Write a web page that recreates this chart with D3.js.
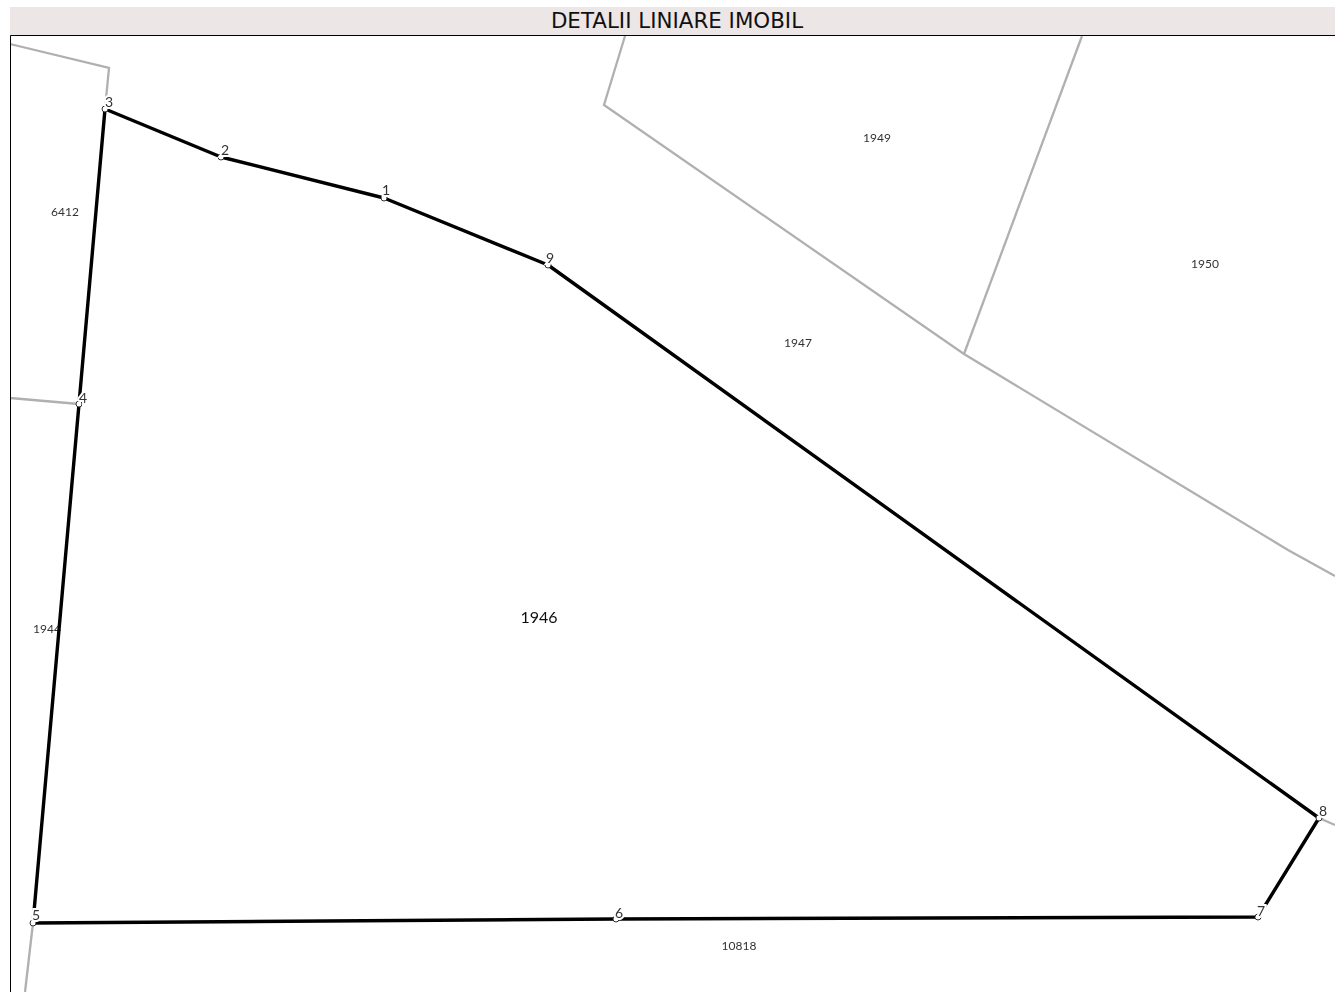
<!DOCTYPE html>
<html>
<head>
<meta charset="utf-8">
<script src="https://cdn.jsdelivr.net/npm/d3@7"></script>
<style>
  html, body { margin: 0; padding: 0; background: #fff; overflow: hidden; }
  text.parcel { font-family: Lato, sans-serif; fill: #333; }
  text.vertex { font-family: Lato, sans-serif; fill: #333; font-size: 14px; paint-order: stroke; stroke: #fff; stroke-width: 4px; }
</style>
</head>
<body>
<div class="chart"></div>
<script>
// all map positions are in plot units, 0,0 is the upper left corner of the frame
const title = "DETALII LINIARE IMOBIL";

const vertexNames = ["1", "2", "3", "4", "5", "6", "7", "8", "9"];
const vertexX = [374, 211, 95, 69, 23, 606, 1248, 1309, 538];
const vertexY = [162, 121, 73, 368, 887, 883, 881, 782, 229];
const boundaryOrder = ["3", "2", "1", "9", "8", "7", "6", "5", "4", "3"];

const labelDx = [2, 4, 4, 4, 3, 3, 3, 4, 2];
const labelDy = [-9, -8, -8, -7, -9, -7, -7, -8, -8];

const neighbours = [
  [[0, 8], [99, 32], [95, 73]],
  [[615, 0], [594, 69], [954, 318], [1278, 514], [1325, 540]],
  [[1072, 0], [954, 318]],
  [[0, 362], [69, 368]],
  [[23, 887], [15, 956]],
  [[1309, 782], [1325, 789]]
];

const parcelNames = ["6412", "1944", "1946", "1947", "1949", "1950", "10818"];
const parcelX = [55, 37, 529, 788, 867, 1195, 729];
const parcelY = [175, 592, 580, 306, 101, 227, 909];
const parcelSize = [12, 12, 16, 12, 12, 12, 12];

const outerWidth = 1335, outerHeight = 992;
const margin = {top: 36, right: 0, bottom: 0, left: 10};
const width = outerWidth - margin.left - margin.right;
const height = outerHeight - margin.top - margin.bottom;

const svg = d3.select(".chart").append("svg")
  .attr("width", outerWidth)
  .attr("height", outerHeight)
  .style("display", "block");

// the reference is a slightly soft raster
const defs = svg.append("defs");
defs.append("filter").attr("id", "soft")
  .attr("x", 0).attr("y", 0).attr("width", "100%").attr("height", "100%")
  .append("feGaussianBlur").attr("stdDeviation", 0.5);
defs.append("clipPath").attr("id", "plot")
  .append("rect")
  .attr("x", margin.left).attr("y", margin.top)
  .attr("width", width).attr("height", height);

// title bar
svg.append("rect")
  .attr("x", margin.left).attr("y", 7)
  .attr("width", width).attr("height", margin.top - 7)
  .attr("fill", "#ece6e6");
svg.append("text")
  .attr("x", 677).attr("y", 28)
  .attr("text-anchor", "middle")
  .attr("font-family", "DejaVu Sans")
  .attr("font-size", 21.4)
  .attr("fill", "#111")
  .text(title);

const xScale = d3.scaleLinear().domain([0, width]).range([margin.left, outerWidth]);
const yScale = d3.scaleLinear().domain([0, height]).range([margin.top, outerHeight]);
const line = d3.line().x(d => xScale(d[0])).y(d => yScale(d[1]));

const map = svg.append("g").attr("clip-path", "url(#plot)")
  .append("g").attr("filter", "url(#soft)");

map.append("rect")
  .attr("x", margin.left).attr("y", margin.top)
  .attr("width", width).attr("height", height)
  .attr("fill", "#fff");

map.selectAll(".neighbour")
  .data(neighbours)
  .enter().append("path")
  .attr("class", "neighbour")
  .attr("d", line)
  .attr("fill", "none")
  .attr("stroke", "#b0b0b0")
  .attr("stroke-width", 2.3);

map.selectAll(".parcel")
  .data(parcelNames)
  .enter().append("text")
  .attr("class", "parcel")
  .attr("x", (d, i) => xScale(parcelX[i]))
  .attr("y", (d, i) => yScale(parcelY[i]))
  .attr("text-anchor", "middle")
  .attr("dominant-baseline", "central")
  .attr("font-size", (d, i) => parcelSize[i])
  .style("fill", (d, i) => parcelSize[i] > 12 ? "#111" : null)
  .text(d => d);

const boundary = boundaryOrder.map(n => {
  const i = vertexNames.indexOf(n);
  return [vertexX[i], vertexY[i]];
});
map.append("path")
  .attr("d", line(boundary))
  .attr("fill", "none")
  .attr("stroke", "#000")
  .attr("stroke-width", 3.4)
  .attr("stroke-linejoin", "round");

map.selectAll(".vertex-dot")
  .data(vertexNames)
  .enter().append("circle")
  .attr("class", "vertex-dot")
  .attr("cx", (d, i) => xScale(vertexX[i]))
  .attr("cy", (d, i) => yScale(vertexY[i]))
  .attr("r", 3)
  .attr("fill", "#fff")
  .attr("stroke", "#333")
  .attr("stroke-width", 1);

map.selectAll(".vertex")
  .data(vertexNames)
  .enter().append("text")
  .attr("class", "vertex")
  .attr("x", (d, i) => xScale(vertexX[i] + labelDx[i]))
  .attr("y", (d, i) => yScale(vertexY[i] + labelDy[i]))
  .attr("text-anchor", "middle")
  .attr("dominant-baseline", "central")
  .text(d => d);

// frame, top and left only
svg.append("path")
  .attr("d", `M${outerWidth},${margin.top - 0.5}H${margin.left + 0.5}V${outerHeight}`)
  .attr("fill", "none")
  .attr("stroke", "#000")
  .attr("stroke-width", 1);
</script>
</body>
</html>
